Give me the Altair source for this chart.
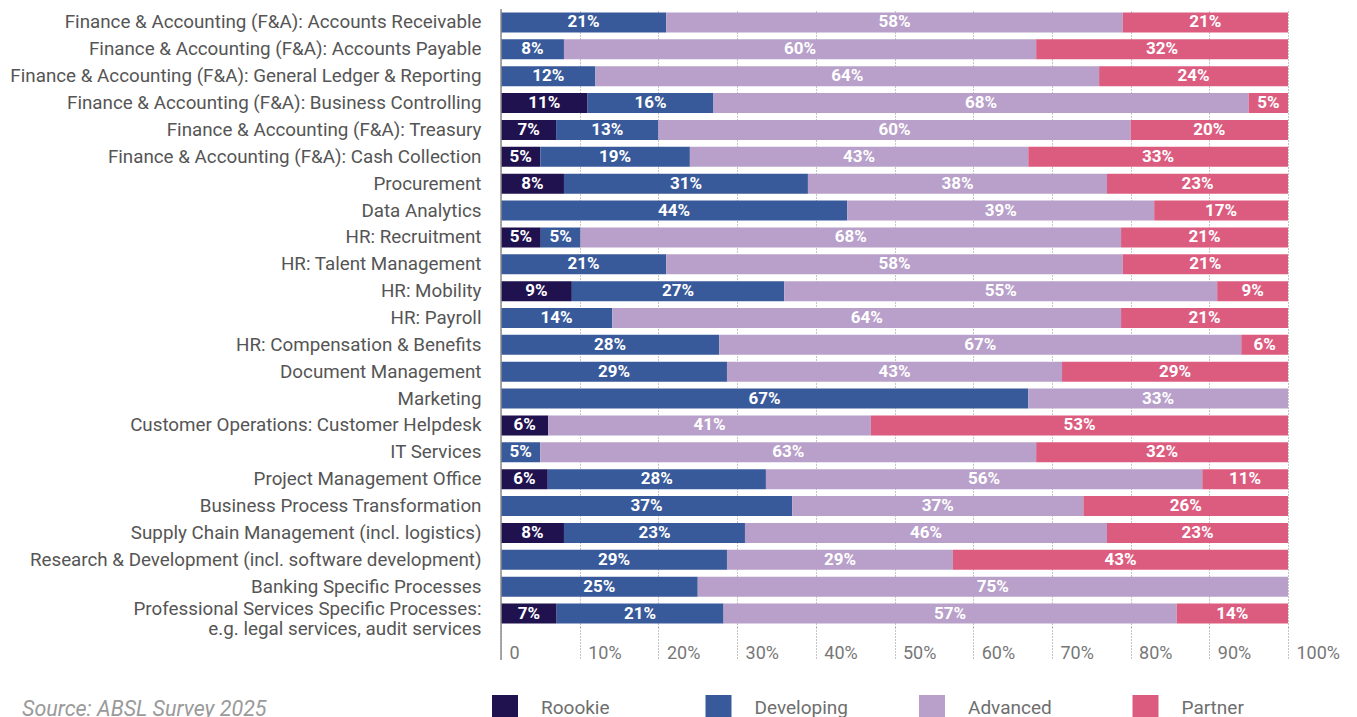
import altair as alt
import pandas as pd

categories = [
    "Finance & Accounting (F&A): Accounts Receivable",
    "Finance & Accounting (F&A): Accounts Payable",
    "Finance & Accounting (F&A): General Ledger & Reporting",
    "Finance & Accounting (F&A): Business Controlling",
    "Finance & Accounting (F&A): Treasury",
    "Finance & Accounting (F&A): Cash Collection",
    "Procurement",
    "Data Analytics",
    "HR: Recruitment",
    "HR: Talent Management",
    "HR: Mobility",
    "HR: Payroll",
    "HR: Compensation & Benefits",
    "Document Management",
    "Marketing",
    "Customer Operations: Customer Helpdesk",
    "IT Services",
    "Project Management Office",
    "Business Process Transformation",
    "Supply Chain Management (incl. logistics)",
    "Research & Development (incl. software development)",
    "Banking Specific Processes",
    "Professional Services Specific Processes:\ne.g. legal services, audit services",
]

rookie     = [0, 0, 0, 11, 7, 5, 8, 0, 5, 0, 9, 0, 0, 0, 0, 6, 0, 6, 0, 8, 0, 0, 7]
developing = [21, 8, 12, 16, 13, 19, 31, 44, 5, 21, 27, 14, 28, 29, 67, 0, 5, 28, 37, 23, 29, 25, 21]
advanced   = [58, 60, 64, 68, 60, 43, 38, 39, 68, 58, 55, 64, 67, 43, 33, 41, 63, 56, 37, 46, 29, 75, 57]
partner    = [21, 32, 24, 5, 20, 33, 23, 17, 21, 21, 9, 21, 6, 29, 0, 53, 32, 11, 26, 23, 43, 0, 14]

levels = ["Roookie", "Developing", "Advanced", "Partner"]
colors = ["#20114f", "#385a9b", "#b8a0ca", "#dc5c80"]
x_ticks = [0, 0.1, 0.2, 0.3, 0.4, 0.5, 0.6, 0.7, 0.8, 0.9, 1.0]
source_text = "Source: ABSL Survey 2025"

rows = []
for i, cat in enumerate(categories):
    for j, series in enumerate([rookie, developing, advanced, partner]):
        rows.append({"category": cat, "level": levels[j], "order": j, "value": series[i]})
df = pd.DataFrame(rows)

FONT = "Roboto"
W, H = 787, 618

base = alt.Chart(df).transform_filter(alt.datum.value > 0)

y_enc = alt.Y(
    "category:N",
    sort=categories,
    title=None,
    scale=alt.Scale(paddingInner=0.255, paddingOuter=0.13),
    axis=alt.Axis(
        domain=False, ticks=False, labelPadding=20, labelFontSize=18.8,
        labelColor="#555555", labelFont=FONT, labelLimit=700,
        labelExpr="split(datum.label, '\\n')", labelLineHeight=20,
        labelOffset={"condition": {"test": "indexof(datum.value, '\\n') >= 0", "value": -5}, "value": 0},
        minExtent=493, maxExtent=493,
    ),
)

bars = base.mark_bar().encode(
    x=alt.X(
        "value:Q", stack="normalize", title=None,
        scale=alt.Scale(domain=[0, 1], nice=False),
        axis=alt.Axis(
            values=x_ticks,
            labelExpr="datum.value == 0 ? '0' : format(datum.value, '.0%')",
            grid=True, gridDash=[1, 2], gridColor="#8c8c8c",
            ticks=True, tickSize=33, tickDash=[1, 2], tickColor="#8c8c8c",
            domain=False, labelAlign="left", labelOffset=8,
            labelBaseline="middle", labelPadding=-7,
            labelFontSize=18, labelColor="#777777", labelFont=FONT,
        ),
    ),
    y=y_enc,
    color=alt.Color(
        "level:N",
        scale=alt.Scale(domain=levels, range=colors),
        legend=alt.Legend(
            title=None, orient="none", direction="horizontal",
            legendX=-9, legendY=686, padding=0,
            symbolType="square", symbolSize=676, symbolStrokeWidth=0,
            symbolOpacity=1, labelFontSize=19, labelColor="#6e6e6e",
            labelFont=FONT, labelOffset=23, gridAlign="all", columnPadding=70.5,
        ),
    ),
    order=alt.Order("order:Q"),
)

labels = base.transform_joinaggregate(
    total="sum(value)", groupby=["category"]
).transform_window(
    cum="sum(value)", groupby=["category"], sort=[alt.SortField("order")], frame=[None, 0]
).transform_calculate(
    mid="(datum.cum - datum.value / 2) / datum.total",
    lbl="datum.value + '%'",
).mark_text(
    color="white", fontWeight="bold", fontSize=17, font=FONT, baseline="middle"
).encode(
    x=alt.X("mid:Q"),
    y=y_enc,
    text="lbl:N",
)

zero_rule = alt.Chart(pd.DataFrame({"x": [0]})).mark_rule(
    color="#8c8c8c", strokeWidth=1.5
).encode(x="x:Q", y=alt.value(0), y2=alt.value(651))

source = alt.Chart(pd.DataFrame({"t": [source_text]})).mark_text(
    align="left", baseline="middle", fontSize=21.5, fontStyle="italic",
    color="#9a9a9a", font=FONT,
).encode(x=alt.value(-479), y=alt.value(701), text="t:N")

chart = alt.layer(bars, labels, zero_rule, source).properties(
    width=W, height=H,
    padding={"left": 0, "top": 0, "right": 5, "bottom": 0},
).configure_view(stroke=None)

chart.save("out.html", embed_options={"renderer": "svg", "actions": False})
